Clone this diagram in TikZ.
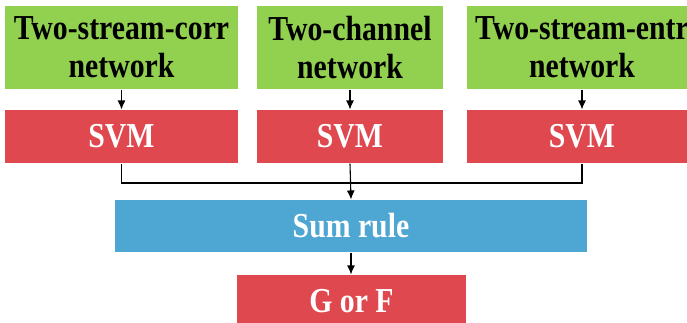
\documentclass[tikz,border=0pt]{standalone}
\usepackage{fontspec}
\setmainfont{Liberation Serif}[FakeStretch=0.85]
\usetikzlibrary{arrows.meta}
\definecolor{netgreen}{RGB}{146,208,80}
\definecolor{svmred}{RGB}{224,72,80}
\definecolor{sumblue}{RGB}{78,166,211}
\tikzset{
  box/.style={rectangle, inner sep=0pt, align=center, font=\fontsize{35}{38}\selectfont\bfseries},
  net/.style={box, fill=netgreen, text=black, minimum height=83pt},
  svm/.style={box, fill=svmred, text=white, minimum height=53pt},
}
\begin{document}
\begin{tikzpicture}[x=1pt, y=-1pt, >={Latex[length=9pt, width=8pt]}, line width=1.1pt]
  \useasboundingbox (0,0) rectangle (687,322);
  % Networks
  \node (n1) [net, minimum width=233pt] at (121.5, 47.5) {Two-stream-corr\\network};
  \node (n2) [net, minimum width=186pt] at (350, 47.5) {Two-channel\\network};
  \node (n3) [net, minimum width=230pt] at (582, 47.5) {Two-stream-entr\\network};
  % Classifiers
  \node (s1) [svm, minimum width=233pt] at (121.5, 136.5) {SVM};
  \node (s2) [svm, minimum width=186pt] at (350, 136.5) {SVM};
  \node (s3) [svm, minimum width=230pt] at (582, 136.5) {SVM};
  % Fusion
  \node (sum) [box, fill=sumblue, text=white, minimum width=472pt, minimum height=52pt] at (351, 226) {Sum rule};
  \node (out) [svm, minimum width=229pt, minimum height=52pt] at (351.5, 301) {G or F};
  % Arrows
  \draw[->] (n1.south) -- (s1.north);
  \draw[->] (n2.south) -- (s2.north);
  \draw[->] (n3.south) -- (s3.north);
  \coordinate (j) at (350, 183);
  \draw (s1.south) |- (j) -| (s3.south);
  \draw[->] (s2.south) -- (sum.north);
  \draw[->] (sum.south) -- (sum.south |- out.north);
\end{tikzpicture}
\end{document}
